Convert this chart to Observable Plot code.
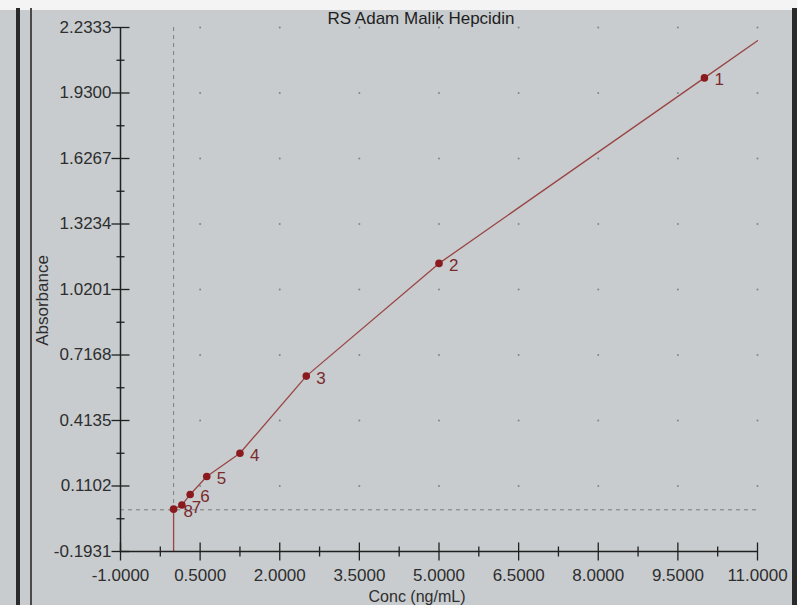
<!DOCTYPE html>
<html>
<head>
<meta charset="utf-8">
<script src="https://cdn.jsdelivr.net/npm/d3@7"></script>
<script src="https://cdn.jsdelivr.net/npm/@observablehq/plot@0.6"></script>
<style>
  html, body { margin: 0; padding: 0; }
  body { width: 797px; height: 605px; overflow: hidden; position: relative;
         background: #c8ccce; font-family: "Liberation Sans", Arial, sans-serif; }
  #chart { position: absolute; left: 0; top: 0; }
  .topstrip { position: absolute; left: 0; top: 0; width: 797px; height: 10px; background: #f4f4f4; }
  .bez1 { position: absolute; left: 16px; top: 8px; width: 4px; height: 597px; background: #2a2a2a; }
  .bez2 { position: absolute; left: 30px; top: 8px; width: 2px; height: 597px; background: #4a4a4a; }
  .bezR { position: absolute; left: 792px; top: 8px; width: 5px; height: 597px; background: #2a2a2a; }
</style>
</head>
<body>
<div id="chart"></div>
<div class="topstrip"></div>
<div class="bez1"></div>
<div class="bez2"></div>
<div class="bezR"></div>
<script>
// ---- data ----
const title = "RS Adam Malik Hepcidin";
const xLabel = "Conc (ng/mL)";
const yLabel = "Absorbance";
const stdLabels = ["1", "2", "3", "4", "5", "6", "7", "8"];
const stdConc = [10, 5, 2.5, 1.25, 0.625, 0.3125, 0.156, 0];
const stdAbs  = [2.000, 1.141, 0.619, 0.262, 0.154, 0.071, 0.022, 0.003];
const fitConc = [0, 0.156, 0.3125, 0.625, 1.25, 2.5, 5, 10, 11];
const fitAbs  = [0.003, 0.022, 0.071, 0.154, 0.262, 0.619, 1.141, 2.000, 2.172];
const xMajor = [-1, 0.5, 2, 3.5, 5, 6.5, 8, 9.5, 11];
const xMinor = [-0.25, 1.25, 2.75, 4.25, 5.75, 7.25, 8.75, 10.25];
const xTickLabels = ["-1.0000", "0.5000", "2.0000", "3.5000", "5.0000", "6.5000", "8.0000", "9.5000", "11.0000"];
const yMajor = [-0.1931, 0.1102, 0.4135, 0.7168, 1.0201, 1.3234, 1.6267, 1.9300, 2.2333];
const yMinor = [-0.04145, 0.26185, 0.56515, 0.86845, 1.17175, 1.47505, 1.77835, 2.08165];
const yTickLabels = ["-0.1931", "0.1102", "0.4135", "0.7168", "1.0201", "1.3234", "1.6267", "1.9300", "2.2333"];

const standards = stdLabels.map((l, i) => ({label: l, conc: stdConc[i], abs: stdAbs[i]}));
const fit = fitConc.map((c, i) => ({conc: c, abs: fitAbs[i]}));
const xDomain = [xMajor[0], xMajor[xMajor.length - 1]];
const yDomain = [yMajor[0], yMajor[yMajor.length - 1]];
const gridDots = d3.cross(xMajor.slice(1), yMajor.slice(1)).map(([x, y]) => ({x, y}));
const blank = standards[standards.length - 1];

// custom line symbols for cross ticks
const hTick = {draw(ctx, size) { const l = Math.sqrt(size / Math.PI); ctx.moveTo(-l, 0); ctx.lineTo(l, 0); }};
const vTick = {draw(ctx, size) { const l = Math.sqrt(size / Math.PI); ctx.moveTo(0, -l); ctx.lineTo(0, l); }};

const axisColor = "#202020";
const textColor = "#2e2e2e";
const font = "Liberation Sans, Arial, sans-serif";

const chart = Plot.plot({
  width: 797,
  height: 605,
  marginLeft: 120,
  marginRight: 40,
  marginTop: 27,
  marginBottom: 54,
  x: {domain: xDomain, axis: null},
  y: {domain: yDomain, axis: null},
  style: {background: "transparent", fontFamily: font, overflow: "visible"},
  marks: [
    // faint grid dots
    Plot.dot(gridDots, {x: "x", y: "y", r: 1, fill: "#80868a", stroke: "none"}),
    // dashed zero lines
    Plot.ruleX([0], {stroke: "#7a7d80", strokeDasharray: "4,4", strokeWidth: 1}),
    Plot.ruleY([0], {stroke: "#7a7d80", strokeDasharray: "4,4", strokeWidth: 1}),
    // fitted curve
    Plot.ruleX([blank], {x: "conc", y1: yDomain[0], y2: "abs", stroke: "#9a4545", strokeWidth: 1.3}),
    Plot.line(fit, {x: "conc", y: "abs", curve: "linear", stroke: "#9a4545", strokeWidth: 1.3}),
    // standards
    Plot.dot(standards, {x: "conc", y: "abs", r: 3.8, fill: "#8a1a1e", stroke: "none"}),
    Plot.text(standards, {x: "conc", y: "abs", text: "label", dx: 10, dy: 2, textAnchor: "start",
      fontSize: 17, fill: "#7a2a2c"}),
    // axis lines
    Plot.ruleX([xDomain[0]], {y1: yDomain[0], y2: yDomain[1], stroke: axisColor, strokeWidth: 1.5}),
    Plot.ruleY([yDomain[0]], {x1: xDomain[0], x2: xDomain[1], stroke: axisColor, strokeWidth: 1.5}),
    // y ticks
    Plot.dot(yMajor, {x: xDomain[0], y: d => d, symbol: hTick, r: 9, stroke: axisColor, strokeWidth: 1.3, fill: "none"}),
    Plot.dot(yMinor, {x: xDomain[0], y: d => d, symbol: hTick, r: 4, stroke: axisColor, strokeWidth: 1.3, fill: "none"}),
    Plot.text(yMajor, {x: xDomain[0], y: d => d, text: (d, i) => yTickLabels[i], dx: -9, textAnchor: "end",
      fontSize: 17, fill: textColor}),
    // x ticks
    Plot.dot(xMajor, {x: d => d, y: yDomain[0], symbol: vTick, r: 9, stroke: axisColor, strokeWidth: 1.3, fill: "none"}),
    Plot.dot(xMinor, {x: d => d, y: yDomain[0], symbol: vTick, r: 5, stroke: axisColor, strokeWidth: 1.3, fill: "none"}),
    Plot.text(xMajor, {x: d => d, y: yDomain[0], text: (d, i) => xTickLabels[i], dy: 17, lineAnchor: "top",
      fontSize: 17, fill: textColor}),
    // axis titles and chart title
    Plot.text([xLabel], {frameAnchor: "bottom", dx: -22, dy: 50, lineAnchor: "bottom", fontSize: 16, fill: textColor}),
    Plot.text([yLabel], {frameAnchor: "left", dx: -78, dy: 11, rotate: -90, textAnchor: "middle", fontSize: 17, fill: textColor}),
    Plot.text([title], {frameAnchor: "top", dx: -18, dy: -4, lineAnchor: "bottom", fontSize: 17, fill: "#1e1e1e"})
  ]
});
document.getElementById("chart").appendChild(chart);
</script>
</body>
</html>
